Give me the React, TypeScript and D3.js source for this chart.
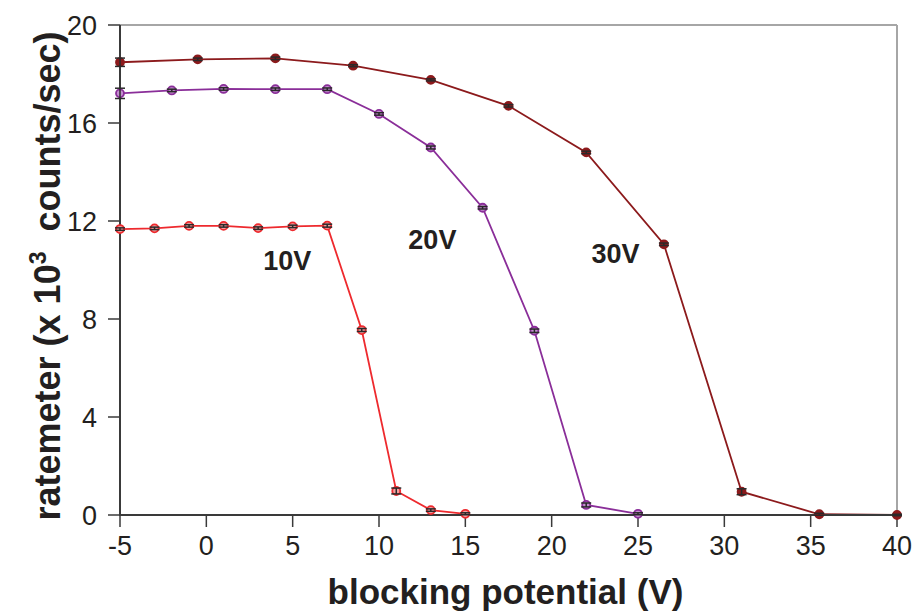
import React from 'react';
import * as d3 from 'd3';

// blocking potential (V) and ratemeter (x10^3 counts/sec) per accelerating voltage
const x10V = [-5, -3, -1, 1, 3, 5, 7, 9, 11, 13, 15];
const y10V = [11.67, 11.7, 11.8, 11.8, 11.71, 11.78, 11.81, 7.55, 0.98, 0.2, 0.05];
const e10V = [0.05, 0.05, 0.05, 0.05, 0.05, 0.05, 0.06, 0.06, 0.12, 0.05, 0.04];

const x20V = [-5, -2, 1, 4, 7, 10, 13, 16, 19, 22, 25];
const y20V = [17.21, 17.33, 17.39, 17.38, 17.38, 16.37, 15.0, 12.54, 7.52, 0.41, 0.05];
const e20V = [0.21, 0.05, 0.05, 0.05, 0.05, 0.05, 0.06, 0.05, 0.07, 0.08, 0.04];

const x30V = [-5, -0.5, 4, 8.5, 13, 17.5, 22, 26.5, 31, 35.5, 40];
const y30V = [18.48, 18.6, 18.64, 18.34, 17.76, 16.7, 14.8, 11.05, 0.95, 0.03, 0.0];
const e30V = [0.17, 0.05, 0.05, 0.04, 0.04, 0.05, 0.05, 0.05, 0.12, 0.04, 0.03];

const xTicks = [-5, 0, 5, 10, 15, 20, 25, 30, 35, 40];
const yTicks = [0, 4, 8, 12, 16, 20];

const series = [
  { name: '10V', xs: x10V, ys: y10V, es: e10V, color: '#ee2a2e', fill: '#f4a0a0', label: [3.3, 10.0] },
  { name: '20V', xs: x20V, ys: y20V, es: e20V, color: '#8a2e99', fill: '#c48fd0', label: [11.7, 10.86] },
  { name: '30V', xs: x30V, ys: y30V, es: e30V, color: '#8c1a1c', fill: '#8c1a1c', label: [22.3, 10.29] },
];

const W = 918, H = 616;
const left = 120, right = 897, top = 25, bottom = 515;
const font = '"Liberation Sans", Arial, Helvetica, sans-serif';

export default function App() {
  const x = d3.scaleLinear().domain([-5, 40]).range([left, right]);
  const y = d3.scaleLinear().domain([0, 20]).range([bottom, top]);

  return (
    <svg width={W} height={H} style={{ position: 'absolute', left: 0, top: 0, background: '#fff' }}
      fontFamily={font}>
      {/* plot frame: light top / right edges */}
      <line x1={left} x2={right} y1={top} y2={top} stroke="#a6a6a6" strokeWidth={2} />
      <line x1={right} x2={right} y1={top} y2={bottom} stroke="#a6a6a6" strokeWidth={2} />

      {/* series lines */}
      {series.map(s => {
        const line = d3.line<number>().x((_, i) => x(s.xs[i])).y(d => y(d));
        return <path key={s.name + 'l'} d={line(s.ys) || ''} fill="none" stroke={s.color} strokeWidth={1.8} />;
      })}

      {/* axes */}
      <line x1={left} x2={left} y1={top} y2={bottom + 1} stroke="#3a3a3a" strokeWidth={2} />
      <line x1={left - 1} x2={right} y1={bottom} y2={bottom} stroke="#3a3a3a" strokeWidth={2} />
      {yTicks.map(t => (
        <g key={'y' + t}>
          <line x1={left - 12} x2={left} y1={y(t)} y2={y(t)} stroke="#3a3a3a" strokeWidth={1.5} />
          <text x={left - 23} y={y(t)} dy="0.36em" textAnchor="end" fontSize={27} fill="#231f20">{t}</text>
        </g>
      ))}
      {xTicks.map(t => (
        <g key={'x' + t}>
          <line x1={x(t)} x2={x(t)} y1={bottom} y2={bottom + 12} stroke="#3a3a3a" strokeWidth={1.5} />
          <text x={x(t)} y={555} textAnchor="middle" fontSize={27} fill="#231f20">{t}</text>
        </g>
      ))}

      {/* markers and error bars */}
      {series.map(s => (
        <g key={s.name + 'm'}>
          {s.ys.map((v, i) => {
            const cx = x(s.xs[i]);
            const y1 = y(v + s.es[i]), y2 = y(v - s.es[i]);
            return (
              <g key={i}>
                <circle cx={cx} cy={y(v)} r={4} fill={s.fill} stroke={s.color} strokeWidth={1.8} />
                <line x1={cx} x2={cx} y1={y1} y2={y2} stroke="#2a2a2a" strokeWidth={1.5} />
                <line x1={cx - 5} x2={cx + 5} y1={y1} y2={y1} stroke="#2a2a2a" strokeWidth={1.5} />
                <line x1={cx - 5} x2={cx + 5} y1={y2} y2={y2} stroke="#2a2a2a" strokeWidth={1.5} />
              </g>
            );
          })}
        </g>
      ))}

      {/* curve labels */}
      {series.map(s => (
        <text key={s.name + 't'} x={x(s.label[0])} y={y(s.label[1])} fontSize={27} fontWeight="bold"
          fill="#231f20">{s.name}</text>
      ))}

      {/* axis titles */}
      <text x={(left + right) / 2 - 3} y={604} textAnchor="middle" fontSize={35} fontWeight="bold" fill="#231f20">
        blocking potential (V)
      </text>
      <text transform={`translate(60, 276) rotate(-90)`} textAnchor="middle"
        fontSize={36} fontWeight="bold" fill="#231f20">
        ratemeter (x 10<tspan dy={-14} fontSize={23}>3</tspan><tspan dy={14}>{'\u00a0\u00a0counts/sec)'}</tspan>
      </text>
    </svg>
  );
}
